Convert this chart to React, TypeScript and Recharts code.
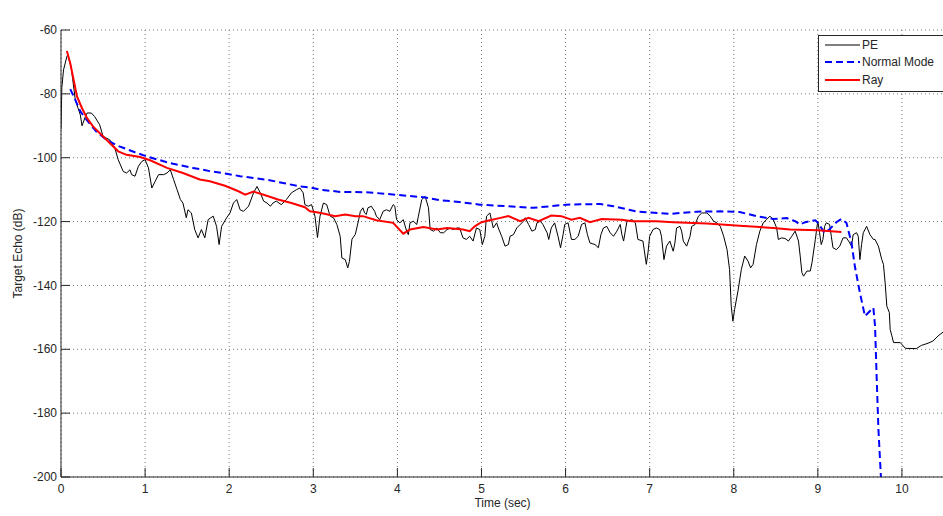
import { LineChart, Line, XAxis, YAxis, CartesianGrid, Legend } from "recharts";

// PE (parabolic equation) curve: time in sec, echo in dB
const peTime = [
  0, 0.01, 0.03, 0.07, 0.08, 0.12, 0.14, 0.17, 0.23, 0.25, 0.29, 0.31, 0.36, 0.4, 0.46, 0.5, 0.58, 0.64, 0.68, 0.74,
  0.78, 0.82, 0.84, 0.88, 0.92, 0.96, 1.0, 1.04, 1.08, 1.12, 1.16, 1.22, 1.26, 1.3, 1.34, 1.38, 1.42, 1.45, 1.49, 1.51,
  1.55, 1.59, 1.63, 1.67, 1.71, 1.75, 1.81, 1.85, 1.88, 1.91, 1.97, 2.01, 2.05, 2.09, 2.13, 2.17, 2.23, 2.29, 2.33, 2.37,
  2.41, 2.45, 2.49, 2.52, 2.56, 2.62, 2.68, 2.74, 2.8, 2.84, 2.88, 2.9, 2.94, 2.98, 3.02, 3.05, 3.08, 3.12, 3.16, 3.2,
  3.24, 3.28, 3.32, 3.34, 3.38, 3.41, 3.43, 3.46, 3.5, 3.54, 3.56, 3.59, 3.61, 3.63, 3.65, 3.69, 3.73, 3.75, 3.79, 3.83,
  3.87, 3.91, 3.95, 3.97, 3.99, 4.03, 4.07, 4.11, 4.13, 4.15, 4.19, 4.23, 4.25, 4.29, 4.33, 4.37, 4.39, 4.43, 4.47, 4.51,
  4.55, 4.59, 4.63, 4.66, 4.71, 4.74, 4.78, 4.82, 4.86, 4.9, 4.94, 4.98, 5.01, 5.04, 5.06, 5.1, 5.14, 5.18, 5.2, 5.24,
  5.28, 5.32, 5.34, 5.38, 5.42, 5.46, 5.5, 5.52, 5.56, 5.6, 5.64, 5.66, 5.7, 5.73, 5.78, 5.8, 5.83, 5.87, 5.91, 5.94,
  5.97, 5.99, 6.03, 6.05, 6.07, 6.11, 6.15, 6.19, 6.23, 6.26, 6.29, 6.35, 6.39, 6.42, 6.45, 6.49, 6.53, 6.57, 6.61, 6.65,
  6.67, 6.69, 6.73, 6.79, 6.83, 6.86, 6.92, 6.96, 6.98, 7.0, 7.04, 7.08, 7.12, 7.14, 7.17, 7.2, 7.24, 7.28, 7.3, 7.32,
  7.36, 7.38, 7.4, 7.44, 7.48, 7.5, 7.54, 7.58, 7.62, 7.68, 7.72, 7.76, 7.8, 7.84, 7.88, 7.92, 7.95, 7.97, 7.99, 8.01,
  8.05, 8.09, 8.13, 8.17, 8.2, 8.23, 8.27, 8.31, 8.35, 8.39, 8.43, 8.47, 8.51, 8.53, 8.57, 8.61, 8.65, 8.69, 8.73, 8.77,
  8.79, 8.81, 8.83, 8.87, 8.91, 8.93, 8.97, 8.99, 9.0, 9.02, 9.04, 9.06, 9.08, 9.1, 9.14, 9.16, 9.18, 9.22, 9.26, 9.3,
  9.34, 9.38, 9.4, 9.42, 9.46, 9.48, 9.5, 9.52, 9.54, 9.58, 9.62, 9.66, 9.68, 9.72, 9.76, 9.78, 9.8, 9.82, 9.85, 9.86,
  9.88, 9.9, 9.98, 10.04, 10.17, 10.23, 10.31, 10.37, 10.43, 10.49,
];
const peEcho = [
  -91, -78, -72.5, -68.3, -67.8, -71.5, -75.6, -81.9, -86.6, -90, -87.1, -86, -86, -87.1, -89.7, -93.3, -94.4, -97, -100.6, -104.3,
  -104.8, -103.8, -105.3, -105.8, -102.7, -101.2, -100.6, -103.2, -109.5, -107.4, -105.3, -105.3, -104.8, -103.8, -106.9, -110, -113.1, -114.2, -118.8, -116.3,
  -117.3, -122.5, -125.1, -122.5, -125.1, -119.4, -118.3, -121.5, -127.2, -121.5, -118.8, -117.3, -114.2, -113.1, -116.3, -116.8, -115.2, -111, -109, -111,
  -113.6, -114.2, -115.2, -114.2, -113.6, -114.7, -113.1, -111, -110, -109.5, -111, -114.7, -115.2, -114.7, -118.3, -125, -118.3, -114.2, -114.7, -118.3,
  -118.8, -120.9, -124.6, -131.4, -131.9, -134.5, -132.4, -125.5, -124, -119.4, -116.8, -115.7, -117.3, -117.8, -115.7, -115.2, -116.8, -118.3, -119.4, -116.8,
  -116.3, -116.8, -114.7, -115.2, -119.4, -120.4, -119.4, -123, -124.1, -120.4, -119.9, -120.9, -118.3, -113.1, -112.1, -115.7, -122.5, -123, -122, -123.5,
  -123.5, -122.5, -122, -122.5, -122, -122, -125.1, -125.6, -124.6, -126.1, -122, -122.5, -127.2, -124.6, -118.3, -117.3, -122, -120.4, -122, -124.6,
  -127.7, -127.2, -124.6, -124.1, -122, -120.9, -119.9, -118.8, -120.9, -123, -122.5, -120.4, -119.9, -120.9, -123.5, -125.6, -122, -120.4, -124.6, -128.2,
  -124.1, -120.9, -120.4, -123, -125.6, -125.6, -124.6, -120.9, -120.4, -124.1, -126.7, -127.2, -128.2, -124.1, -122, -121.5, -123.5, -124.6, -123, -120.9,
  -124.1, -126.1, -119.9, -119.4, -120.4, -125.6, -126.1, -133.4, -129.8, -124.6, -122.5, -122, -122.5, -124.6, -131.9, -127.7, -126.1, -129.3, -126.7, -122,
  -121.5, -123, -126.1, -127.7, -124.6, -121.5, -120.9, -118.3, -117.3, -117.3, -118.3, -119.9, -120.4, -121.5, -124.6, -128.8, -135, -146.5, -151.2, -147.5,
  -141.8, -135, -130.8, -132.4, -134.5, -133.4, -127.2, -123, -120.4, -119.4, -118.3, -119.4, -122, -125.6, -125.1, -125.3, -126.1, -124.6, -123, -126.1,
  -130.8, -136, -137.1, -135.5, -135.5, -132.9, -125.6, -121.5, -119.9, -123.5, -127.2, -125.6, -121.5, -120.4, -120.9, -124.6, -128.2, -128.8, -127.7, -125.1,
  -125.1, -126.7, -127.7, -124.1, -123.5, -124.6, -131.9, -127.2, -123.5, -121.5, -124.1, -125.6, -125.6, -127.7, -131.9, -133.4, -139.2, -146.5, -148.5, -153.8,
  -155.8, -157.9, -157.9, -159.7, -159.8, -158.8, -158.1, -157.4, -155.8, -154.6,
];

// Normal mode curve
const nmTime = [
  0.11, 0.17, 0.23, 0.31, 0.42, 0.54, 0.68, 0.88, 1.02, 1.3, 1.57, 1.77, 1.97, 2.13, 2.45, 2.64, 2.84, 2.96, 3.08, 3.32,
  3.63, 3.99, 4.31, 4.51, 4.74, 4.98, 5.3, 5.62, 6.01, 6.41, 6.57, 6.84, 6.96, 7.24, 7.56, 7.84, 8.07, 8.27, 8.47, 8.63,
  8.73, 8.79, 8.85, 8.97, 9.0, 9.08, 9.14, 9.22, 9.28, 9.34, 9.4, 9.44, 9.5, 9.56, 9.62, 9.66, 9.68, 9.7, 9.72, 9.75,
];
const nmEcho = [
  -78.5, -81.9, -85.5, -88.3, -91.8, -94.4, -96.3, -98.3, -99.6, -101.7, -103.2, -104.2, -105, -105.8, -106.9, -107.9, -109, -109.3, -110, -110.7,
  -110.8, -111.6, -112.4, -113.3, -113.9, -114.7, -115.2, -115.7, -114.7, -114.5, -115.2, -116.8, -117.1, -117.6, -116.9, -116.8, -117, -118.3, -119.2, -118.9,
  -119.9, -120.9, -120.2, -119.6, -120.4, -123.5, -122.4, -120.2, -119.2, -120.4, -126.7, -134, -142.3, -149.6, -148, -147, -152.7, -169.4, -185, -200,
];

// Ray curve
const rayTime = [
  0.07, 0.11, 0.15, 0.19, 0.25, 0.31, 0.38, 0.48, 0.58, 0.68, 0.78, 0.94, 1.06, 1.26, 1.45, 1.65, 1.77, 1.95, 2.11, 2.19,
  2.29, 2.41, 2.58, 2.74, 2.9, 2.96, 3.04, 3.12, 3.26, 3.38, 3.5, 3.59, 3.75, 3.95, 4.07, 4.15, 4.31, 4.47, 4.59, 4.78,
  4.86, 4.92, 5.0, 5.1, 5.2, 5.32, 5.46, 5.56, 5.68, 5.83, 5.95, 6.07, 6.17, 6.29, 6.43, 6.67, 6.79, 6.94, 7.08, 7.28,
  7.68, 8.07, 8.47, 8.67, 9.0, 9.28,
];
const rayEcho = [
  -66.6, -70.4, -75.6, -80.8, -84.5, -87.6, -90.2, -92.8, -95.4, -98, -99.1, -99.8, -100.8, -103.2, -104.8, -106.8, -107.4, -108.8, -110.5, -111.6,
  -110.6, -111.6, -113.1, -114.2, -115.5, -116.8, -117.1, -117.5, -118.3, -117.8, -118.3, -118.3, -119.6, -120.4, -123.8, -122.5, -121.7, -122.5, -122, -122.5,
  -123, -121.5, -120.2, -119.6, -119, -118.3, -119.9, -118.8, -119.9, -118.1, -118.3, -119.4, -118.8, -120.2, -119.2, -119.4, -119.9, -119.9, -119.9, -120.2,
  -120.6, -121.3, -122, -122.5, -122.7, -123.3,
];

const seriesNames = ["PE", "Normal Mode", "Ray"];
const xTicks = [0, 1, 2, 3, 4, 5, 6, 7, 8, 9, 10];
const yTicks = [-200, -180, -160, -140, -120, -100, -80, -60];

const toPoints = (ts: number[], vs: number[]) => ts.map((t, i) => ({ t, v: vs[i] }));
const peData = toPoints(peTime, peEcho);
const nmData = toPoints(nmTime, nmEcho);
const rayData = toPoints(rayTime, rayEcho);

const FONT = '"Liberation Sans", Arial, Helvetica, sans-serif';
const INK = "#262626";
const TICK_LEN = 9;

const BottomTick = (props: any) => {
  const { x, y, payload } = props;
  const axisY = y - 7;
  return (
    <g>
      <line x1={x} x2={x} y1={axisY} y2={axisY - TICK_LEN} stroke={INK} />
      <text x={x} y={y} dy="0.71em" textAnchor="middle" fill={INK} fontSize={12} fontFamily={FONT}>
        {payload.value}
      </text>
    </g>
  );
};

const TopTick = (props: any) => {
  const { x, y } = props;
  return <line x1={x} x2={x} y1={y} y2={y + TICK_LEN} stroke={INK} />;
};

const LeftTick = (props: any) => {
  const { x, y, payload } = props;
  const axisX = x + 4;
  return (
    <g>
      <line x1={axisX} x2={axisX + TICK_LEN} y1={y} y2={y} stroke={INK} />
      <text x={x} y={y} dy="0.35em" textAnchor="end" fill={INK} fontSize={12} fontFamily={FONT}>
        {payload.value}
      </text>
    </g>
  );
};

const LegendBox = (props: any) => {
  const items = [...(props.payload || [])].sort(
    (a: any, b: any) => seriesNames.indexOf(a.value) - seriesNames.indexOf(b.value)
  );
  return (
    <div
      style={{
        width: 132,
        height: 57,
        boxSizing: "border-box",
        border: `1px solid ${INK}`,
        background: "#fff",
        fontFamily: FONT,
        fontSize: 12,
        color: INK,
      }}
    >
      {items.map((it: any) => (
        <div key={it.value} style={{ display: "flex", alignItems: "center", height: 17.5, paddingLeft: 6 }}>
          <svg width={35} height={4} style={{ marginRight: 2 }}>
            <line
              x1={0}
              x2={35}
              y1={2}
              y2={2}
              stroke={it.color}
              strokeWidth={it.payload?.strokeWidth ?? 1}
              strokeDasharray={it.payload?.strokeDasharray}
            />
          </svg>
          <span>{it.value}</span>
        </div>
      ))}
    </div>
  );
};

export default function App() {
  return (
    <div style={{ position: "absolute", left: 0, top: 0, width: 943, height: 516, overflow: "hidden", background: "#fff" }}>
      <LineChart width={950} height={516} margin={{ top: 30, right: 6, bottom: 9, left: 0 }}>
        <CartesianGrid stroke="#7a7a7a" strokeDasharray="1 3" />
        <XAxis
          dataKey="t"
          type="number"
          domain={[0, 10.5]}
          ticks={xTicks}
          height={30}
          tickSize={0}
          tickMargin={7}
          tickLine={false}
          axisLine={{ stroke: INK }}
          tick={<BottomTick />}
          allowDataOverflow
          label={{ value: "Time (sec)", position: "insideBottom", offset: 0, fill: INK, fontSize: 12, fontFamily: FONT }}
        />
        <XAxis
          xAxisId="top"
          orientation="top"
          type="number"
          domain={[0, 10.5]}
          ticks={xTicks}
          height={0}
          tickSize={0}
          tickMargin={0}
          tickLine={false}
          axisLine={{ stroke: INK }}
          tick={<TopTick />}
          label={{
            value: "Problem 17 (RD). TS = 8; SL = -6.29 dB; f = 250 Hz",
            position: "top",
            offset: 11,
            fill: INK,
            fontSize: 12,
            fontFamily: FONT,
          }}
        />
        <YAxis
          type="number"
          domain={[-200, -60]}
          ticks={yTicks}
          width={61}
          tickSize={0}
          tickMargin={4}
          tickLine={false}
          axisLine={{ stroke: INK }}
          tick={<LeftTick />}
          allowDataOverflow
          label={{
            value: "Target Echo (dB)",
            angle: -90,
            position: "insideLeft",
            offset: 18,
            fill: INK,
            fontSize: 12,
            fontFamily: FONT,
            style: { textAnchor: "middle" },
          }}
        />
        <Legend
          layout="vertical"
          align="center"
          verticalAlign="middle"
          content={<LegendBox />}
          wrapperStyle={{ left: 818, top: 35, width: 132, height: 57 }}
        />
        <Line
          data={peData}
          dataKey="v"
          name="PE"
          type="linear"
          stroke="#000000"
          strokeWidth={1}
          dot={false}
          activeDot={false}
          isAnimationActive={false}
        />
        <Line
          data={nmData}
          dataKey="v"
          name="Normal Mode"
          type="linear"
          stroke="#0000ff"
          strokeWidth={2}
          strokeDasharray="7 4"
          dot={false}
          activeDot={false}
          isAnimationActive={false}
        />
        <Line
          data={rayData}
          dataKey="v"
          name="Ray"
          type="linear"
          stroke="#ff0000"
          strokeWidth={2}
          dot={false}
          activeDot={false}
          isAnimationActive={false}
        />
      </LineChart>
    </div>
  );
}
